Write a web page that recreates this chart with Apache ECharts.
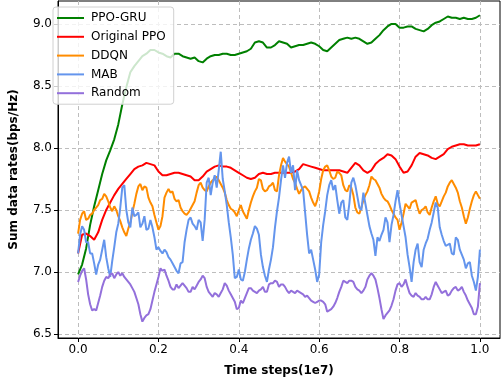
<!DOCTYPE html>
<html>
<head>
<meta charset="utf-8">
<title>Sum data rates</title>
<script src="https://cdn.jsdelivr.net/npm/echarts@6/dist/echarts.min.js"></script>
<style>
  html, body { margin: 0; padding: 0; background: #fff; }
  #main { width: 502px; height: 388px; }
</style>
</head>
<body>
<div id="main"></div>
<script>
// time steps (1e7): coarse grid (0.01) for the smooth PPO curves,
// fine grid (0.005) for the noisy baselines
var steps = [];
for (var i = 0; i <= 100; i++) steps.push(i / 100);
var fineSteps = [];
for (var j = 0; j <= 200; j++) fineSteps.push(j / 200);

var xTicks = [0, 0.2, 0.4, 0.6, 0.8, 1.0];
var yTicks = [6.5, 7.0, 7.5, 8.0, 8.5, 9.0];
var names = ['PPO-GRU', 'Original PPO', 'DDQN', 'MAB', 'Random'];
var colors = ['#008000', '#ff0000', '#ff8c00', '#6495ed', '#9370db'];

var ppoGru = [
  6.98, 7.06, 7.19, 7.38, 7.53, 7.66, 7.79, 7.90, 7.98, 8.07,
  8.19, 8.35, 8.49, 8.61, 8.66, 8.70, 8.74, 8.76, 8.79, 8.79,
  8.77, 8.76, 8.74, 8.73, 8.76, 8.76, 8.74, 8.73, 8.72, 8.73,
  8.70, 8.69, 8.72, 8.74, 8.75, 8.75, 8.76, 8.76, 8.75, 8.75,
  8.76, 8.77, 8.78, 8.80, 8.85, 8.86, 8.85, 8.81, 8.81, 8.83,
  8.86, 8.85, 8.84, 8.81, 8.82, 8.83, 8.83, 8.84, 8.85, 8.84,
  8.82, 8.79, 8.78, 8.81, 8.84, 8.87, 8.88, 8.89, 8.88, 8.89,
  8.88, 8.86, 8.84, 8.85, 8.88, 8.91, 8.95, 8.98, 9.00, 9.00,
  8.97, 8.97, 8.98, 8.98, 8.96, 8.95, 8.94, 8.96, 8.99, 9.01,
  9.02, 9.04, 9.06, 9.05, 9.05, 9.04, 9.05, 9.04, 9.04, 9.05,
  9.07
];
var originalPpo = [
  7.15, 7.30, 7.31, 7.29, 7.26, 7.32, 7.42, 7.50, 7.56, 7.62,
  7.67, 7.71, 7.75, 7.79, 7.83, 7.85, 7.86, 7.88, 7.87, 7.86,
  7.81, 7.78, 7.78, 7.79, 7.80, 7.80, 7.79, 7.78, 7.77, 7.74,
  7.74, 7.77, 7.81, 7.83, 7.85, 7.86, 7.85, 7.85, 7.84, 7.82,
  7.80, 7.78, 7.76, 7.75, 7.76, 7.79, 7.80, 7.79, 7.79, 7.80,
  7.80, 7.80, 7.80, 7.80, 7.81, 7.83, 7.87, 7.86, 7.85, 7.84,
  7.83, 7.82, 7.82, 7.82, 7.82, 7.82, 7.81, 7.80, 7.84, 7.88,
  7.86, 7.82, 7.80, 7.82, 7.87, 7.90, 7.92, 7.95, 7.94, 7.91,
  7.85, 7.80, 7.81, 7.86, 7.93, 7.96, 7.95, 7.94, 7.92, 7.91,
  7.93, 7.95, 7.99, 8.01, 8.02, 8.03, 8.03, 8.02, 8.02, 8.02,
  8.03
];
var ddqn = [
  7.31, 7.42, 7.47, 7.49, 7.42, 7.43, 7.46, 7.47, 7.50, 7.52,
  7.54, 7.58, 7.59, 7.63, 7.61, 7.57, 7.52, 7.49, 7.53, 7.50,
  7.45, 7.41, 7.36, 7.32, 7.29, 7.35, 7.40, 7.48, 7.55, 7.63,
  7.69, 7.71, 7.66, 7.69, 7.68, 7.60, 7.56, 7.53, 7.46, 7.40,
  7.34, 7.37, 7.45, 7.60, 7.64, 7.67, 7.64, 7.65, 7.59, 7.57,
  7.58, 7.52, 7.49, 7.47, 7.46, 7.48, 7.51, 7.54, 7.57, 7.64,
  7.70, 7.72, 7.68, 7.66, 7.65, 7.69, 7.72, 7.74, 7.75, 7.77,
  7.74, 7.71, 7.68, 7.64, 7.58, 7.54, 7.51, 7.50, 7.48, 7.45,
  7.50, 7.54, 7.49, 7.46, 7.43, 7.50, 7.56, 7.61, 7.65, 7.68,
  7.75, 7.74, 7.67, 7.65, 7.66, 7.69, 7.70, 7.72, 7.66, 7.65,
  7.78, 7.86, 7.92, 7.89, 7.87, 7.85, 7.80, 7.75, 7.72, 7.67,
  7.63, 7.66, 7.68, 7.69, 7.67, 7.65, 7.60, 7.56, 7.53, 7.58,
  7.65, 7.75, 7.82, 7.85, 7.86, 7.82, 7.77, 7.75, 7.76, 7.81,
  7.80, 7.78, 7.70, 7.66, 7.65, 7.70, 7.68, 7.62, 7.52, 7.48,
  7.47, 7.52, 7.58, 7.62, 7.65, 7.70, 7.77, 7.75, 7.74, 7.71,
  7.68, 7.63, 7.60, 7.58, 7.57, 7.54, 7.50, 7.47, 7.44, 7.42,
  7.34, 7.40, 7.47, 7.55, 7.53, 7.51, 7.56, 7.57, 7.58, 7.52,
  7.47, 7.50, 7.51, 7.53, 7.48, 7.46, 7.52, 7.57, 7.61, 7.55,
  7.53, 7.57, 7.61, 7.64, 7.69, 7.72, 7.74, 7.71, 7.68, 7.64,
  7.57, 7.52, 7.45, 7.39, 7.44, 7.51, 7.57, 7.62, 7.65, 7.62,
  7.59
];
var mab = [
  7.15, 7.30, 7.37, 7.34, 7.24, 7.24, 7.15, 7.15, 7.07, 6.98,
  7.06, 7.10, 7.18, 7.26, 7.12, 7.03, 6.96, 7.09, 7.20, 7.32,
  7.39, 7.52, 7.68, 7.70, 7.50, 7.40, 7.36, 7.52, 7.45, 7.46,
  7.48, 7.36, 7.39, 7.45, 7.34, 7.35, 7.42, 7.36, 7.28, 7.18,
  7.20, 7.17, 7.15, 7.18, 7.16, 7.12, 7.10, 7.07, 7.04, 7.01,
  6.99, 7.07, 7.08, 7.24, 7.34, 7.42, 7.44, 7.39, 7.37, 7.34,
  7.42, 7.40, 7.25, 7.42, 7.72, 7.76, 7.62, 7.72, 7.78, 7.68,
  7.82, 7.97, 7.75, 7.65, 7.54, 7.40, 7.28, 7.14, 6.95, 6.96,
  7.02, 6.94, 6.93, 7.00, 7.10, 7.19, 7.26, 7.31, 7.37, 7.35,
  7.30, 7.14, 7.04, 6.97, 6.92, 7.02, 7.10, 7.20, 7.36, 7.49,
  7.60, 7.74, 7.86, 7.76, 7.88, 7.93, 7.80, 7.86, 7.66, 7.82,
  7.74, 7.70, 7.66, 7.48, 7.30, 7.15, 7.18, 7.10, 7.02, 6.92,
  6.98, 7.24, 7.38, 7.49, 7.62, 7.70, 7.74, 7.66, 7.70, 7.58,
  7.47, 7.56, 7.58, 7.44, 7.42, 7.55, 7.72, 7.76, 7.70, 7.61,
  7.52, 7.50, 7.64, 7.55, 7.46, 7.37, 7.31, 7.26, 7.13, 7.28,
  7.25, 7.30, 7.34, 7.44, 7.40, 7.24, 7.38, 7.46, 7.57, 7.66,
  7.55, 7.46, 7.37, 7.28, 7.14, 7.04, 6.92, 7.08, 7.18, 7.23,
  7.08, 7.04, 7.18, 7.23, 7.27, 7.34, 7.40, 7.48, 7.56, 7.52,
  7.36, 7.30, 7.25, 7.21, 7.22, 7.23, 7.15, 7.14, 7.28, 7.26,
  7.18, 7.14, 7.10, 7.03, 7.07, 7.08, 6.97, 6.92, 6.85, 6.96,
  7.18
];
var random = [
  6.92, 6.97, 7.01, 7.03, 6.94, 6.82, 6.74, 6.69, 6.70, 6.69,
  6.75, 6.81, 6.88, 6.93, 6.96, 6.95, 6.98, 6.99, 6.95, 6.98,
  7.00, 6.97, 6.99, 6.96, 6.94, 6.92, 6.90, 6.87, 6.84, 6.79,
  6.74, 6.66, 6.60, 6.63, 6.65, 6.66, 6.70, 6.77, 6.84, 6.90,
  6.96, 7.03, 7.01, 7.02, 6.97, 6.93, 6.88, 6.86, 6.86, 6.90,
  6.87, 6.89, 6.91, 6.89, 6.87, 6.84, 6.84, 6.88, 6.86, 6.89,
  6.92, 6.94, 6.97, 6.95, 6.88, 6.84, 6.82, 6.80, 6.83, 6.82,
  6.80, 6.83, 6.86, 6.91, 6.89, 6.85, 6.82, 6.79, 6.76, 6.70,
  6.71, 6.77, 6.75, 6.79, 6.83, 6.87, 6.87, 6.85, 6.84, 6.83,
  6.85, 6.86, 6.88, 6.84, 6.84, 6.90, 6.91, 6.91, 6.93, 6.92,
  6.88, 6.90, 6.90, 6.88, 6.85, 6.83, 6.85, 6.84, 6.83, 6.85,
  6.84, 6.83, 6.82, 6.80, 6.81, 6.79, 6.77, 6.76, 6.75, 6.76,
  6.77, 6.77, 6.76, 6.74, 6.68, 6.69, 6.70, 6.72, 6.75, 6.79,
  6.84, 6.88, 6.93, 6.92, 6.91, 6.93, 6.93, 6.92, 6.88, 6.86,
  6.85, 6.83, 6.85, 6.88, 6.94, 6.97, 6.99, 6.97, 6.94, 6.87,
  6.79, 6.70, 6.62, 6.65, 6.67, 6.69, 6.73, 6.78, 6.85, 6.90,
  6.91, 6.88, 6.90, 6.94, 6.88, 6.83, 6.81, 6.80, 6.83, 6.81,
  6.80, 6.78, 6.78, 6.80, 6.78, 6.78, 6.82, 6.88, 6.92, 6.89,
  6.86, 6.83, 6.84, 6.85, 6.81, 6.82, 6.85, 6.87, 6.88, 6.85,
  6.86, 6.88, 6.84, 6.81, 6.77, 6.74, 6.71, 6.66, 6.66, 6.72,
  6.91
];

var allValues = [ppoGru, originalPpo, ddqn, mab, random];
var allSteps = [steps, steps, fineSteps, fineSteps, fineSteps];

function pairs(xs, vals) {
  return xs.map(function (t, i) { return [t, vals[i]]; });
}

var font = 'DejaVu Sans';
var myChart = echarts.init(document.getElementById('main'));

var series = names.map(function (n, k) {
  return {
    name: n,
    type: 'line',
    data: pairs(allSteps[k], allValues[k]),
    symbol: 'none',
    lineStyle: { width: 2, color: colors[k] },
    itemStyle: { color: colors[k] }
  };
});

option = {
  animation: false,
  grid: {
    left: 47, right: 2, top: 1, bottom: 50,
    show: true, borderColor: '#000', borderWidth: 1, backgroundColor: '#fff'
  },
  legend: {
    orient: 'vertical',
    left: 53, top: 7,
    data: names,
    icon: 'rect',
    itemWidth: 27, itemHeight: 2,
    itemGap: 6.8,
    padding: [5, 8, 5, 4],
    backgroundColor: 'rgba(255,255,255,0.8)',
    borderColor: '#d0d0d0', borderWidth: 1, borderRadius: 3,
    textStyle: { fontFamily: font, fontSize: 12, color: '#000', padding: [0, 0, 0, 2] }
  },
  xAxis: {
    type: 'value',
    min: -0.05, max: 1.05,
    name: 'Time steps(1e7)',
    nameLocation: 'middle',
    nameGap: 27,
    nameTextStyle: { fontFamily: font, fontSize: 12, fontWeight: 'bold', color: '#000' },
    axisLine: { show: true, onZero: false, lineStyle: { color: '#000', width: 1 } },
    axisTick: { show: true, length: 4, customValues: xTicks, lineStyle: { color: '#000' } },
    axisLabel: {
      customValues: xTicks, margin: 6,
      fontFamily: font, fontSize: 12, color: '#000',
      formatter: function (v) { return v.toFixed(1); }
    },
    splitLine: { show: true, lineStyle: { color: '#bdbdbd', type: [4, 3], width: 1 } }
  },
  yAxis: {
    type: 'value',
    min: 6.468, max: 9.185,
    name: 'Sum data rates(bps/Hz)',
    nameLocation: 'middle',
    nameGap: 38,
    nameTextStyle: { fontFamily: font, fontSize: 12, fontWeight: 'bold', color: '#000' },
    axisLine: { show: true, onZero: false, lineStyle: { color: '#000', width: 1 } },
    axisTick: { show: true, length: 4, customValues: yTicks, lineStyle: { color: '#000' } },
    axisLabel: {
      customValues: yTicks, margin: 6,
      fontFamily: font, fontSize: 12, color: '#000',
      formatter: function (v) { return v.toFixed(1); }
    },
    splitLine: { show: true, lineStyle: { color: '#bdbdbd', type: [4, 3], width: 1 } }
  },
  series: series
};

myChart.setOption(option);
</script>
</body>
</html>
